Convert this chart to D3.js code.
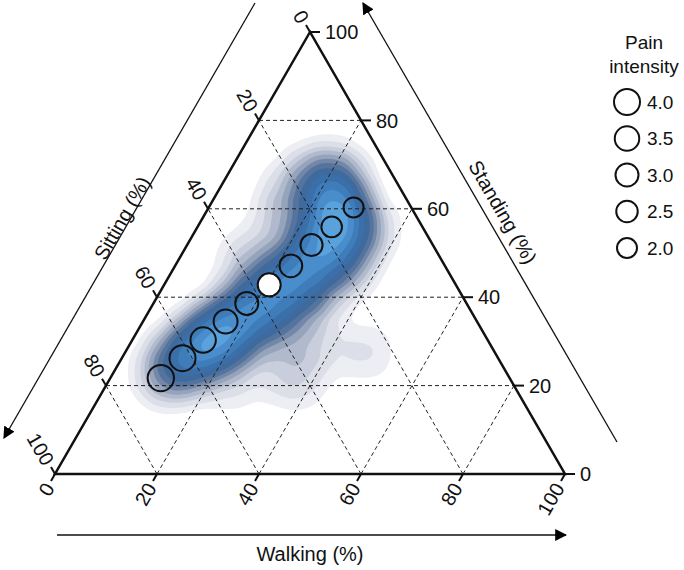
<!DOCTYPE html>
<html>
<head>
<meta charset="utf-8">
<script src="https://cdn.jsdelivr.net/npm/d3@7"></script>
<style>
  body { margin: 0; background: #fff; }
  svg { display: block; font-family: "Liberation Sans", Arial, sans-serif; }
</style>
</head>
<body>
<svg id="svg-1" width="684" height="570"></svg>
<script>
// axis ticks (percent)
const tickValues = [0, 20, 40, 60, 80, 100];
const gridValues = [20, 40, 60, 80];

// mean pain intensity along the activity ridge
const standingPct = [21.7, 26.2, 30.3, 34.5, 38.6, 42.8, 47.1, 51.8, 55.9, 60.3];
const walkingPct  = [9.9, 11.9, 13.9, 16.2, 18.3, 20.6, 22.7, 24.4, 26.3, 28.4];
const painScore   = [4.1, 4.0, 3.8, 3.3, 3.0, 3.0, 2.9, 2.7, 2.2, 2.0];
const isOverall   = [0, 0, 0, 0, 0, 1, 0, 0, 0, 0];

const legendValues = [4.0, 3.5, 3.0, 2.5, 2.0];

// kernel centres for the density of observed days (standing %, walking %, weight)
// ridge, right shoulder, left shoulder, low-standing lobe
const densStanding = [23.1, 26.9, 30.8, 34.8, 38.9, 43.0, 47.3, 51.8, 57.0, 62.4, 67.6,
  29.2, 34.8, 40.5, 47.3, 55.2,
  48.4, 58.6, 65.4,
  29.2, 27.6, 23.5, 20.1, 20.1];
const densWalking  = [11.0, 13.4, 15.4, 17.7, 20.0, 22.6, 24.8, 26.5, 26.4, 23.7, 20.1,
  19.7, 24.8, 28.8, 32.2, 32.2,
  14.0, 15.8, 15.3,
  35.4, 47.0, 33.4, 24.3, 38.0];
const densWeight   = [0.6, 1.0, 0.95, 0.8, 0.75, 0.75, 0.8, 0.9, 1.0, 1.0, 0.5,
  0.55, 0.6, 0.6, 0.6, 0.55,
  0.25, 0.3, 0.3,
  0.2, 0.15, 0.16, 0.13, 0.1];

const levelFractions = [0.03, 0.06, 0.1, 0.14, 0.19, 0.25, 0.31, 0.39, 0.5, 0.62, 0.75, 0.88];
const levelColors = ["#eceef3", "#dcdfe8", "#c8cedb", "#b1bacc", "#95a3bb", "#7387a8",
  "#55749d", "#3f6a9e", "#3b6fa9", "#3f7cba", "#4a8dcc", "#5aa2dc"];

const svg = d3.select("#svg-1");

// triangle: bottom-left = 100% sitting, bottom-right = 100% walking, top = 100% standing
const x = d3.scaleLinear().domain([0, 100]).range([55, 565]);
const y = d3.scaleLinear().domain([0, 100]).range([474, 32]);
function px(s, w) { return [x(w + s / 2), y(s)]; }

const defs = svg.append("defs");
defs.append("clipPath").attr("id", "tri")
  .append("path")
  .attr("d", "M" + px(100, 0) + "L" + px(0, 0) + "L" + px(0, 100) + "Z");

defs.append("marker")
  .attr("id", "arrow")
  .attr("viewBox", "0 0 10 10")
  .attr("refX", 9).attr("refY", 5)
  .attr("markerWidth", 12).attr("markerHeight", 12)
  .attr("markerUnits", "userSpaceOnUse")
  .attr("orient", "auto")
  .append("path").attr("d", "M0,0L10,5L0,10Z").attr("fill", "#000");

// density
const kernels = densStanding.map((s, i) => ({ p: px(s, densWalking[i]), wt: densWeight[i] }));
const density = d3.contourDensity()
  .x(d => d.p[0]).y(d => d.p[1])
  .weight(d => d.wt)
  .size([684, 570])
  .cellSize(2)
  .bandwidth(19);

let contours;
if (typeof density.contours === "function") {
  const c = density.contours(kernels);
  contours = levelFractions.map(f => c(f * c.max));
} else {
  const all = density.thresholds(200)(kernels).filter(d => d.coordinates.length);
  const max = all[all.length - 1].value;
  contours = density.thresholds(levelFractions.map(f => f * max))(kernels);
}

svg.append("g")
  .attr("clip-path", "url(#tri)")
  .selectAll("path")
  .data(contours)
  .join("path")
  .attr("d", d3.geoPath())
  .attr("fill", (d, i) => levelColors[i]);

// grid
const grid = svg.append("g")
  .attr("fill", "none")
  .attr("stroke", "#222")
  .attr("stroke-width", 1)
  .attr("stroke-dasharray", "4,3");
gridValues.forEach(k => {
  grid.append("line").datum([px(k, 0), px(k, 100 - k)]);
  grid.append("line").datum([px(0, k), px(100 - k, k)]);
  grid.append("line").datum([px(0, 100 - k), px(100 - k, 0)]);
});
grid.selectAll("line")
  .attr("x1", d => d[0][0]).attr("y1", d => d[0][1])
  .attr("x2", d => d[1][0]).attr("y2", d => d[1][1]);

// triangle frame
svg.append("path")
  .attr("d", "M" + px(100, 0) + "L" + px(0, 0) + "L" + px(0, 100) + "Z")
  .attr("fill", "none")
  .attr("stroke", "#111")
  .attr("stroke-width", 2.5)
  .attr("stroke-linejoin", "miter");

// ticks and labels
const c60 = 0.5, s60 = Math.sqrt(3) / 2, tl = 8;
const ticks = svg.append("g").attr("stroke", "#111").attr("stroke-width", 2);
const labels = svg.append("g").attr("font-size", "20px").attr("fill", "#111");

tickValues.forEach(k => {
  // standing, right edge
  let p = px(k, 100 - k);
  ticks.append("line").attr("x1", p[0]).attr("y1", p[1]).attr("x2", p[0] + 10).attr("y2", p[1]);
  labels.append("text").attr("x", p[0] + 15).attr("y", p[1]).attr("dy", "0.36em").text(k);

  // walking, bottom edge
  p = px(0, k);
  ticks.append("line").attr("x1", p[0]).attr("y1", p[1])
    .attr("x2", p[0] - c60 * tl).attr("y2", p[1] + s60 * tl);
  labels.append("text")
    .attr("transform", "translate(" + (p[0] - c60 * 12) + "," + (p[1] + s60 * 12) + ") rotate(-60)")
    .attr("text-anchor", "end").attr("dy", "0.36em").text(k);

  // sitting, left edge
  p = px(100 - k, 0);
  ticks.append("line").attr("x1", p[0]).attr("y1", p[1])
    .attr("x2", p[0] - c60 * tl).attr("y2", p[1] - s60 * tl);
  labels.append("text")
    .attr("transform", "translate(" + (p[0] - c60 * 12) + "," + (p[1] - s60 * 12) + ") rotate(60)")
    .attr("text-anchor", "end").attr("dy", "0.36em").text(k);
});

// axis arrows
svg.append("line")
  .attr("x1", 255).attr("y1", 3).attr("x2", 4).attr("y2", 438)
  .attr("stroke", "#111").attr("stroke-width", 1.3).attr("marker-end", "url(#arrow)");
svg.append("line")
  .attr("x1", 617).attr("y1", 442).attr("x2", 363).attr("y2", 3)
  .attr("stroke", "#111").attr("stroke-width", 1.3).attr("marker-end", "url(#arrow)");
svg.append("line")
  .attr("x1", 57).attr("y1", 535).attr("x2", 566).attr("y2", 535)
  .attr("stroke", "#111").attr("stroke-width", 1.3).attr("marker-end", "url(#arrow)");

const titles = svg.append("g").attr("font-size", "20px").attr("fill", "#111").attr("text-anchor", "middle");
titles.append("text").attr("transform", "translate(122,218) rotate(-60)").attr("dy", "0.36em").text("Sitting (%)");
titles.append("text").attr("transform", "translate(503,212) rotate(60)").attr("dy", "0.36em").text("Standing (%)");
titles.append("text").attr("x", 310).attr("y", 554).attr("dy", "0.36em").text("Walking (%)");

// pain circles
const r = d3.scaleLinear().domain([2, 4]).range([10, 13]);
svg.append("g")
  .selectAll("circle")
  .data(painScore.map((v, i) => ({ p: px(standingPct[i], walkingPct[i]), v, o: isOverall[i] })))
  .join("circle")
  .attr("cx", d => d.p[0])
  .attr("cy", d => d.p[1])
  .attr("r", d => r(d.v))
  .attr("fill", d => d.o ? "#fff" : "none")
  .attr("stroke", "#111")
  .attr("stroke-width", 2);

// legend
const legend = svg.append("g").attr("font-size", "19px").attr("fill", "#111");
legend.append("text").attr("x", 644).attr("y", 42).attr("dy", "0.36em").attr("text-anchor", "middle").text("Pain");
legend.append("text").attr("x", 644).attr("y", 66).attr("dy", "0.36em").attr("text-anchor", "middle").text("intensity");
const ly = d3.scalePoint().domain(legendValues).range([102, 248]);
legendValues.forEach(v => {
  legend.append("circle").attr("cx", 627).attr("cy", ly(v)).attr("r", r(v))
    .attr("fill", "none").attr("stroke", "#111").attr("stroke-width", 2);
  legend.append("text").attr("x", 647).attr("y", ly(v)).attr("dy", "0.36em").text(v.toFixed(1));
});
</script>
</body>
</html>
